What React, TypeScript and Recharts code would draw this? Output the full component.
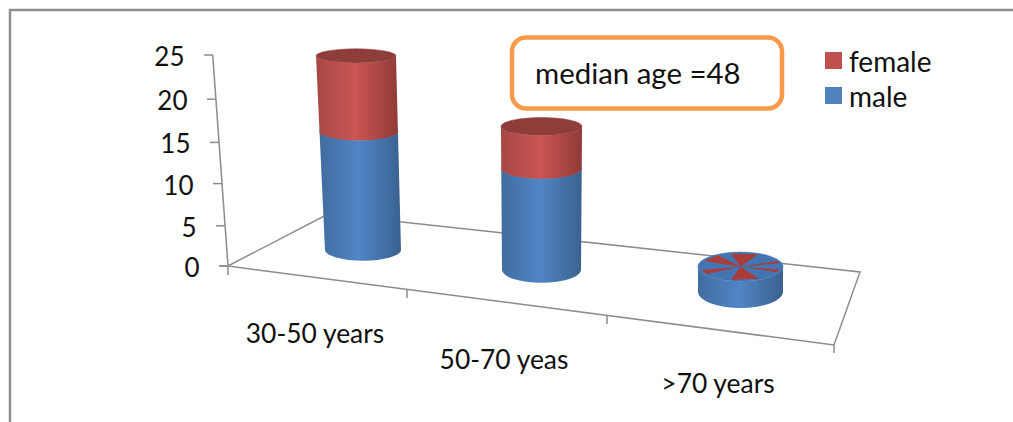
import { Bar, BarChart, Legend, XAxis, YAxis } from "recharts"

const categories = ["30-50 years", "50-70 yeas", ">70 years"]
const maleCounts = [14, 12, 3]
const femaleCounts = [9, 5, 0]
const yTicks = [0, 5, 10, 15, 20, 25]

const rows = categories.map((category, i) => ({
  category,
  male: maleCounts[i],
  female: femaleCounts[i],
}))

const FONT = "Lato, 'Open Sans', sans-serif"
const AXIS_GREY = "#8c8c8c"
const PLOT_TOP = 55
const PLOT_BOTTOM = 266
const PLOT_HEIGHT = PLOT_BOTTOM - PLOT_TOP

// where each cylinder stands on the tilted floor, and how perspective bends it
const standing = [
  { dx: 0, dy: -16, widen: 0, flare: 4.3, lean: -7.6, ry: 10.7, ryDrop: 4 },
  { dx: -10, dy: 4, widen: 3, flare: 3, lean: 0, ry: 12.7, ryDrop: 5.5 },
  { dx: 0.5, dy: 26, widen: 9, flare: 1, lean: 0, ry: 16, ryDrop: 12 },
]

// label and tick placement for the floor's front edge
const xLabelPos = [
  { x: 315, y: 343 },
  { x: 504, y: 369 },
  { x: 718, y: 393 },
]
const floorTicks = [
  { x: 228, y: 267 },
  { x: 407, y: 290 },
  { x: 607, y: 316 },
  { x: 834, y: 345 },
]

// the wall axis is not evenly spaced on screen
const yNudge: Record<number, number> = { 0: 0, 5: 2, 10: 2, 15: 3, 20: 2, 25: 0 }
const wallX = (value: number) => 228 - value * 0.6

// angles of the red slivers showing through the flat top of the third disk
const slivers = [
  [-104, -64],
  [62, 104],
  [-156, -124],
  [148, 166],
  [-24, -14],
  [12, 24],
]

function section(x: number, y: number, width: number, i: number) {
  const s = standing[i]
  const t = (PLOT_BOTTOM - y) / PLOT_HEIGHT
  return {
    cx: x + width / 2 + s.dx + s.lean * t,
    cy: y + s.dy,
    rx: (width + s.widen + s.flare * t) / 2,
    ry: s.ry - s.ryDrop * t,
  }
}

function sidePath(low: ReturnType<typeof section>, up: ReturnType<typeof section>) {
  return [
    `M${low.cx - low.rx},${low.cy}`,
    `A${low.rx},${low.ry} 0 0 0 ${low.cx + low.rx},${low.cy}`,
    `L${up.cx + up.rx},${up.cy}`,
    `A${up.rx},${up.ry} 0 0 1 ${up.cx - up.rx},${up.cy}`,
    "Z",
  ].join(" ")
}

function MaleCylinder(props: any) {
  const { x, y, width, height, index } = props
  const low = section(x, y + height, width, index)
  const up = section(x, y, width, index)
  return (
    <g>
      <ellipse cx={up.cx} cy={up.cy} rx={up.rx} ry={up.ry} fill="#4475b3" stroke="#4475b3" strokeWidth={0.6} />
      <path d={sidePath(low, up)} fill="url(#blueSide)" />
    </g>
  )
}

function FemaleCylinder(props: any) {
  const { x, y, width, height, index } = props
  const low = section(x, y + height, width, index)
  const up = section(x, y, width, index)
  if (height > 0) {
    return (
      <g>
        <ellipse cx={up.cx} cy={up.cy} rx={up.rx} ry={up.ry} fill="#8f3d3b" stroke="#8f3d3b" strokeWidth={0.6} />
        <path d={sidePath(low, up)} fill="url(#redSide)" />
      </g>
    )
  }
  // no female count here: the lid stays blue with red slivers fighting through
  return (
    <g>
      {slivers.map(([a, b]) => {
        const ax = up.cx + up.rx * 0.94 * Math.cos((a * Math.PI) / 180)
        const ay = up.cy + up.ry * 0.94 * Math.sin((a * Math.PI) / 180)
        const bx = up.cx + up.rx * 0.94 * Math.cos((b * Math.PI) / 180)
        const by = up.cy + up.ry * 0.94 * Math.sin((b * Math.PI) / 180)
        return <path key={a} d={`M${up.cx},${up.cy} L${ax},${ay} L${bx},${by} Z`} fill="#a83d3a" />
      })}
    </g>
  )
}

function WallTick(props: any) {
  const value = props.payload.value
  const y = props.y + yNudge[value]
  const lineX = wallX(value)
  return (
    <g>
      <line x1={lineX - 9} x2={lineX} y1={y} y2={y} stroke={AXIS_GREY} strokeWidth={1.5} />
      <text x={lineX - 28.5} y={y + 11} textAnchor="end" fontSize={26} fontFamily={FONT} fill="#111">
        {value}
      </text>
    </g>
  )
}

function FloorLabel(props: any) {
  const pos = xLabelPos[props.index]
  return (
    <text x={pos.x} y={pos.y} textAnchor="middle" fontSize={26.4} fontFamily={FONT} fill="#111">
      {props.payload.value}
    </text>
  )
}

function LegendList(props: any) {
  return (
    <div style={{ fontFamily: FONT, fontSize: 28, color: "#111" }}>
      {props.payload.map((item: any) => (
        <div key={item.value} style={{ display: "flex", alignItems: "center", height: 35 }}>
          <span style={{ width: 17, height: 17, background: item.color, marginRight: 7 }} />
          {item.value}
        </div>
      ))}
    </div>
  )
}

export default function App() {
  return (
    <div style={{ position: "absolute", left: 0, top: 0, width: 1013, height: 422, background: "#fff" }}>
      <BarChart
        width={1013}
        height={422}
        data={rows}
        margin={{ top: PLOT_TOP, bottom: 421 - PLOT_BOTTOM, left: 268, right: 178.5 }}
      >
        <defs>
          <linearGradient id="blueSide" x1="0" x2="1" y1="0" y2="0">
            <stop offset="0" stopColor="#416c9f" />
            <stop offset="0.48" stopColor="#5085c6" />
            <stop offset="1" stopColor="#3a628f" />
          </linearGradient>
          <linearGradient id="redSide" x1="0" x2="1" y1="0" y2="0">
            <stop offset="0" stopColor="#a54846" />
            <stop offset="0.48" stopColor="#cc5552" />
            <stop offset="1" stopColor="#903a38" />
          </linearGradient>
        </defs>

        {/* outer frame */}
        <path d="M10,422 L10,10 L1013,10" fill="none" stroke="#8f8f8f" strokeWidth={2.5} />

        {/* wall line and tilted floor */}
        <g fill="none" stroke={AXIS_GREY} strokeWidth={1.5}>
          <path d="M212.7,55 L228,266" />
          <path d="M220,266 L228,266 L328,214 L860,272 L834,345 L228,266" />
          {floorTicks.map((t) => (
            <line key={t.x} x1={t.x} x2={t.x} y1={t.y} y2={t.y + 8} />
          ))}
        </g>

        <XAxis dataKey="category" height={1} axisLine={false} tickLine={false} tick={FloorLabel} interval={0} />
        <YAxis width={1} domain={[0, 25]} ticks={yTicks} axisLine={false} tickLine={false} tick={WallTick} />
        <Legend
          layout="vertical"
          align="center"
          verticalAlign="middle"
          content={LegendList}
          wrapperStyle={{ left: 825, top: 43, width: 120, height: 70 }}
        />
        <Bar dataKey="male" stackId="age" fill="#4f81bd" barSize={76} shape={MaleCylinder} isAnimationActive={false} />
        <Bar dataKey="female" stackId="age" fill="#c0504d" barSize={76} shape={FemaleCylinder} isAnimationActive={false} />

        {/* note box */}
        <rect x={512} y={37.5} width={270} height={71} rx={14} fill="#fff" stroke="#f99a4a" strokeWidth={4.5} />
        <text x={535} y={84} fontSize={29.4} fontFamily={FONT} fill="#111">
          median age =48
        </text>
      </BarChart>
    </div>
  )
}
